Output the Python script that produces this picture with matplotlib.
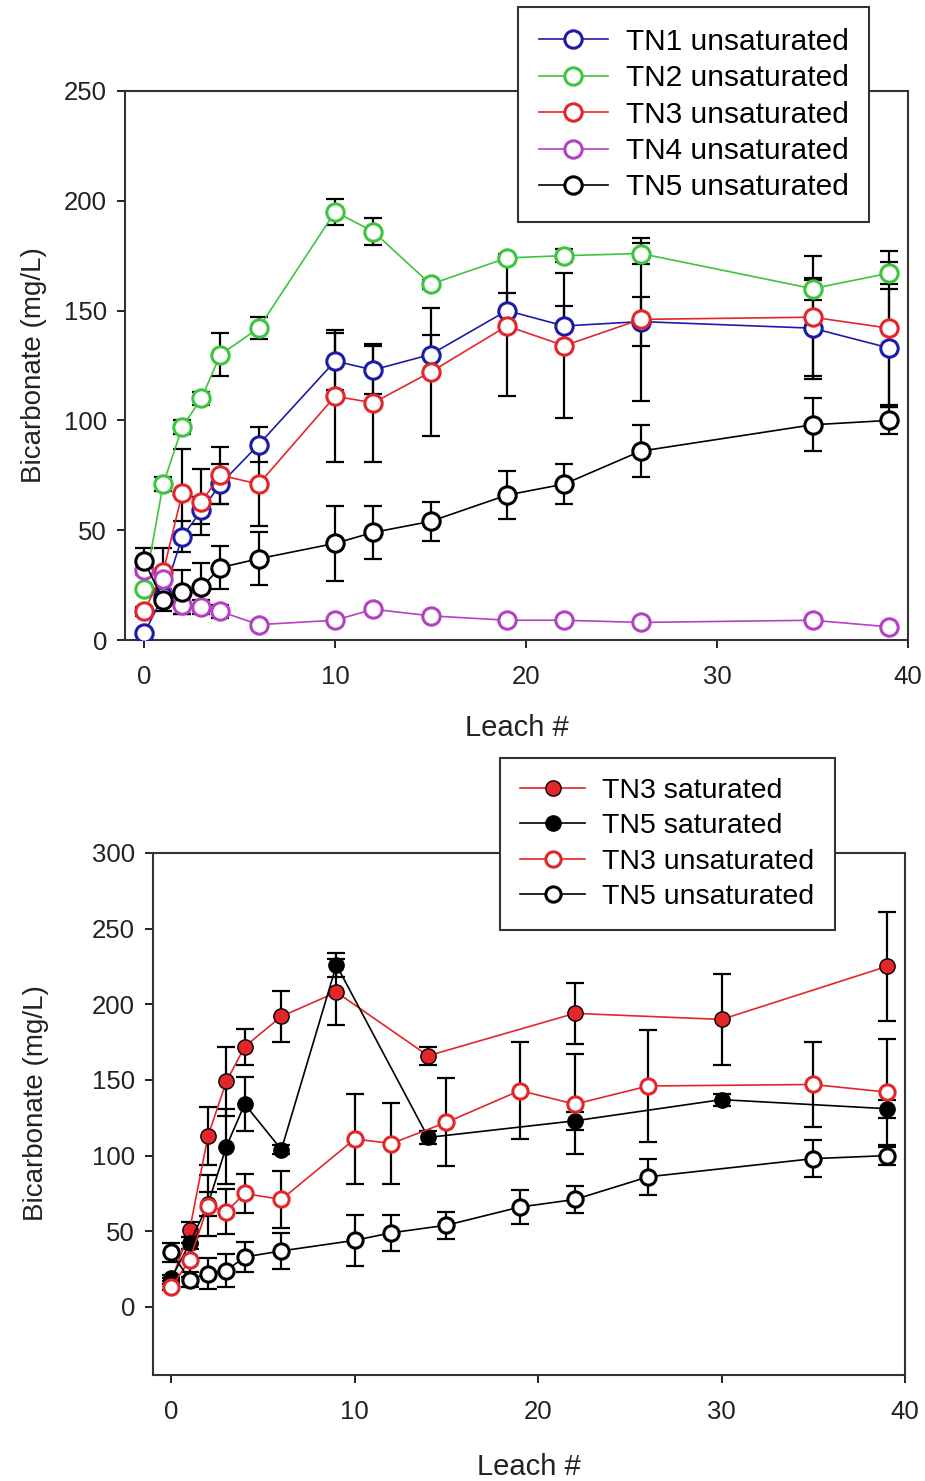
import matplotlib.pyplot as plt
import numpy as np

plt.rcParams['font.family'] = ['Liberation Sans', 'DejaVu Sans']

# top panel: unsaturated columns
x_top = [0, 1, 2, 3, 4, 6, 10, 12, 15, 19, 22, 26, 35, 39]
tn1 = [3, 20, 47, 59, 71, 89, 127, 123, 130, 150, 143, 145, 142, 133]
tn1_err = [0, 3, 7, 6, 9, 8, 13, 11, 9, 8, 9, 11, 22, 27]
tn2 = [23, 71, 97, 110, 130, 142, 195, 186, 162, 174, 175, 176, 160, 167]
tn2_err = [0, 3, 3, 3, 10, 5, 6, 6, 2, 2, 3, 5, 5, 5]
tn3 = [13, 31, 67, 63, 75, 71, 111, 108, 122, 143, 134, 146, 147, 142]
tn3_err = [2, 11, 20, 15, 13, 19, 30, 27, 29, 32, 33, 37, 28, 35]
tn4 = [32, 28, 16, 15, 13, 7, 9, 14, 11, 9, 9, 8, 9, 6]
tn4_err = [2, 2, 4, 3, 3, 1, 1, 1, 1, 1, 1, 1, 1, 1]
tn5 = [36, 18, 22, 24, 33, 37, 44, 49, 54, 66, 71, 86, 98, 100]
tn5_err = [6, 5, 10, 11, 10, 12, 17, 12, 9, 11, 9, 12, 12, 6]

# bottom panel: saturated columns
x_sat = [0, 1, 2, 3, 4, 6, 9, 14, 22, 30, 39]
tn3_sat = [17, 51, 113, 149, 172, 192, 208, 166, 194, 190, 225]
tn3_sat_err = [2, 5, 19, 23, 12, 17, 22, 6, 20, 30, 36]
tn5_sat = [19, 42, 68, 106, 134, 104, 226, 112, 123, 137, 131]
tn5_sat_err = [2, 4, 8, 25, 18, 3, 8, 4, 6, 4, 6]

blue = '#1c1ca8'
green = '#3fc43f'
red = '#e3262a'
magenta = '#b440c4'

fig = plt.figure(figsize=(9.25, 14.81), dpi=100)
ax1 = fig.add_axes([125/925, 1-640/1481, (908-125)/925, (640-91)/1481])
ax2 = fig.add_axes([153/925, 1-1375/1481, (905-153)/925, (1375-853)/1481])


def series(ax, x, y, err, color, label, filled=False, ms=12.5):
    ax.errorbar(x, y, yerr=err, fmt='none', ecolor='black', elinewidth=1.6,
                capsize=6.5, capthick=1.6, zorder=2)
    if filled:
        ax.plot(x, y, '-', color=color, lw=1.2, marker='o', ms=ms,
                mfc=color, mec='black', mew=1.0, label=label, zorder=3)
    else:
        ax.plot(x, y, '-', color=color, lw=1.2, marker='o', ms=ms,
                mfc='white', mec=color, mew=2.2, label=label, zorder=3)


series(ax1, x_top, tn1, tn1_err, blue, 'TN1 unsaturated')
series(ax1, x_top, tn2, tn2_err, green, 'TN2 unsaturated')
series(ax1, x_top, tn3, tn3_err, red, 'TN3 unsaturated')
series(ax1, x_top, tn4, tn4_err, magenta, 'TN4 unsaturated')
series(ax1, x_top, tn5, tn5_err, 'black', 'TN5 unsaturated')

series(ax2, x_sat, tn3_sat, tn3_sat_err, red, 'TN3 saturated', filled=True, ms=11)
series(ax2, x_sat, tn5_sat, tn5_sat_err, 'black', 'TN5 saturated', filled=True, ms=11)
series(ax2, x_top, tn3, tn3_err, red, 'TN3 unsaturated', ms=11)
series(ax2, x_top, tn5, tn5_err, 'black', 'TN5 unsaturated', ms=11)

ax1.set_xlim(-1, 40)
ax1.set_ylim(0, 250)
ax1.set_yticks(np.arange(0, 251, 50))
ax2.set_xlim(-1, 40)
ax2.set_ylim(-45, 300)
ax2.set_yticks(np.arange(0, 301, 50))

for ax in (ax1, ax2):
    ax.set_xticks([0, 10, 20, 30, 40])
    ax.tick_params(direction='out', length=6, width=1.4, labelsize=18.5, colors='#222222')
    ax.tick_params(axis='x', pad=12)
    ax.tick_params(axis='y', pad=7)
    for s in ax.spines.values():
        s.set_linewidth(1.5)
        s.set_color('#333333')
    ax.set_xlabel('Leach #', fontsize=21, color='#222222')
    ax.set_ylabel('Bicarbonate (mg/L)', fontsize=20, color='#222222')

ax1.xaxis.set_label_coords(0.5, -0.135)
ax1.yaxis.set_label_coords(-0.100, 0.5)
ax2.xaxis.set_label_coords(0.5, -0.150)
ax2.yaxis.set_label_coords(-0.138, 0.52)

ax1.legend(loc='upper left', bbox_to_anchor=(518/925, 1-7/1481),
           bbox_transform=fig.transFigure, fontsize=21.5, frameon=True,
           fancybox=False, edgecolor='#333333', framealpha=1,
           handlelength=2.3, labelspacing=0.28, borderpad=0.7,
           handletextpad=0.6, borderaxespad=0).get_frame().set_linewidth(1.5)
ax2.legend(loc='upper left', bbox_to_anchor=(500/925, 1-758/1481),
           bbox_transform=fig.transFigure, fontsize=20.5, frameon=True,
           fancybox=False, edgecolor='#333333', framealpha=1,
           handlelength=2.3, labelspacing=0.33, borderpad=0.7,
           handletextpad=0.6, borderaxespad=0).get_frame().set_linewidth(1.5)

fig.savefig('out.png', dpi=100)
